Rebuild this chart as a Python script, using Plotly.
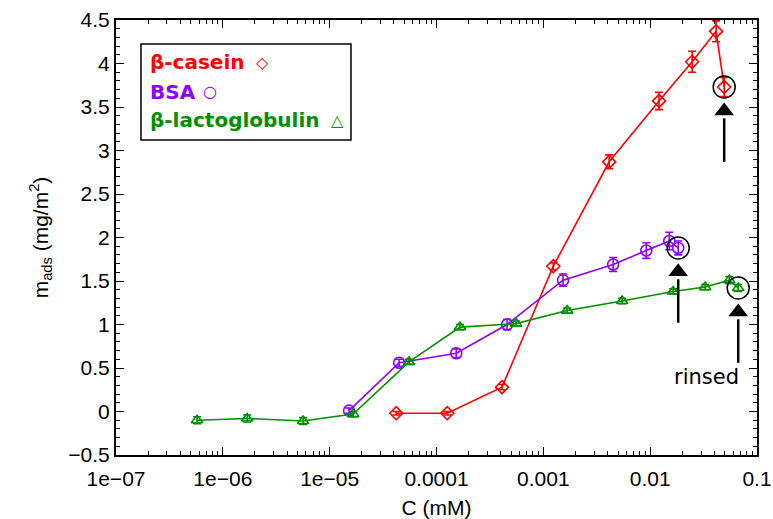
import plotly.graph_objects as go

# ---------------- data ----------------
casein_c = [4.2e-5, 1.26e-4, 4.1e-4, 1.24e-3, 4.13e-3, 1.21e-2, 2.47e-2, 4.14e-2, 4.93e-2]
casein_m = [-0.02, -0.02, 0.28, 1.67, 2.87, 3.57, 4.02, 4.37, 3.73]
casein_err = [0.02, 0.02, 0.03, 0.04, 0.08, 0.1, 0.12, 0.12, 0.11]

bsa_c = [1.52e-5, 4.47e-5, 1.53e-4, 4.58e-4, 1.53e-3, 4.5e-3, 9.2e-3, 1.51e-2, 1.83e-2]
bsa_m = [0.01, 0.56, 0.67, 1.0, 1.51, 1.69, 1.85, 1.96, 1.88]
bsa_err = [0.03, 0.04, 0.05, 0.06, 0.07, 0.08, 0.09, 0.1, 0.08]

blg_c = [5.73e-7, 1.69e-6, 5.64e-6, 1.66e-5, 5.53e-5, 1.66e-4, 5.56e-4, 1.67e-3,
         5.47e-3, 1.64e-2, 3.27e-2, 5.5e-2, 6.67e-2]
blg_m = [-0.1, -0.08, -0.11, -0.03, 0.57, 0.97, 1.01, 1.16, 1.27, 1.38, 1.43, 1.51, 1.42]
blg_err = [0.04, 0.04, 0.04, 0.03, 0.03, 0.03, 0.03, 0.03, 0.03, 0.03, 0.03, 0.04, 0.04]

x_tickvals = [1e-7, 1e-6, 1e-5, 1e-4, 1e-3, 1e-2, 1e-1]
x_ticktext = ["1e\u221207", "1e\u221206", "1e\u221205", "0.0001", "0.001", "0.01", "0.1"]
y_tickvals = [-0.5, 0, 0.5, 1, 1.5, 2, 2.5, 3, 3.5, 4, 4.5]
y_ticktext = ["\u22120.5", "0", "0.5", "1", "1.5", "2", "2.5", "3", "3.5", "4", "4.5"]

series_names = ["\u03b2-casein", "BSA", "\u03b2-lactoglobulin"]
series_colors = ["#ff0000", "#8f00ff", "#008f00"]
rinsed_label = "rinsed"

RED, PURPLE, GREEN = series_colors

fig = go.Figure()

def add_series(c, m, err, color, symbol, size):
    fig.add_trace(go.Scatter(
        x=c, y=m, mode="lines+markers",
        line=dict(color=color, width=1.6),
        marker=dict(symbol=symbol, size=size, color=color, line=dict(color=color, width=1.6)),
        error_y=dict(type="data", array=err, visible=True, color=color, thickness=1.6, width=4),
        showlegend=False,
    ))

add_series(casein_c, casein_m, casein_err, RED, "diamond-open", 10)
add_series(bsa_c, bsa_m, bsa_err, PURPLE, "circle-open", 11)
add_series(blg_c, blg_m, blg_err, GREEN, "triangle-up-open", 10)

# rinsed points: circled, with an arrow pointing up at them from below
rinsed_c = [casein_c[-1], bsa_c[-1], blg_c[-1]]
rinsed_m = [casein_m[-1], bsa_m[-1], blg_m[-1]]
fig.add_trace(go.Scatter(
    x=rinsed_c, y=rinsed_m, mode="markers",
    marker=dict(symbol="circle-open", size=22, color="black", line=dict(color="black", width=1.5)),
    showlegend=False, hoverinfo="skip",
))

# arrow geometry relative to each rinsed point (in mg/m^2 below the point)
ARROW_TAIL, ARROW_BASE, ARROW_HEAD = 0.86, 0.36, 0.275
for cx, my in zip(rinsed_c, rinsed_m):
    fig.add_trace(go.Scatter(
        x=[cx, cx], y=[my - ARROW_TAIL, my - ARROW_BASE], mode="lines",
        line=dict(color="black", width=2.5), showlegend=False, hoverinfo="skip",
    ))
    fig.add_trace(go.Scatter(
        x=[cx], y=[my - ARROW_HEAD], mode="markers",
        marker=dict(symbol="triangle-up", size=17, color="black", line=dict(width=0)),
        showlegend=False, hoverinfo="skip",
    ))

fig.add_annotation(
    x=-1.47, y=0.4, xref="x", yref="y", text=rinsed_label, showarrow=False,
    font=dict(family="DejaVu Sans", size=21, color="black"),
)

# legend box
fig.add_shape(type="rect", xref="paper", yref="paper",
              x0=0.039, x1=0.3666, y0=0.724, y1=0.9448,
              line=dict(color="black", width=1.5), fillcolor="white", layer="above")

leg_y = [0.9034, 0.8345, 0.770]
sym_x = [0.2278, 0.1466, 0.3463]
sym_txt = ["\u25c7", "\u25cb", "\u25b3"]
for name, col, ly, sx, st in zip(series_names, series_colors, leg_y, sym_x, sym_txt):
    fig.add_annotation(x=0.0499, y=ly, xref="paper", yref="paper", xanchor="left", yanchor="middle",
                       text="<b>%s</b>" % name, showarrow=False,
                       font=dict(family="DejaVu Sans", size=20, color=col))
    fig.add_annotation(x=sx, y=ly, xref="paper", yref="paper", xanchor="center", yanchor="middle",
                       text=st, showarrow=False,
                       font=dict(family="DejaVu Sans", size=16, color=col))

tick_font = dict(family="Liberation Sans", size=21, color="black")

fig.update_xaxes(
    type="log", range=[-7, -1], automargin=False,
    tickmode="array", tickvals=x_tickvals, ticktext=x_ticktext,
    ticks="inside", ticklen=8, tickwidth=1.2, tickcolor="black",
    ticklabelstandoff=4,
    minor=dict(tickmode="array",
               tickvals=[k * 10 ** e for e in range(-7, -1) for k in range(2, 10)],
               ticks="inside", ticklen=4, tickwidth=1.2, tickcolor="black", showgrid=False),
    showline=True, linecolor="black", linewidth=2, mirror="ticks",
    showgrid=False, zeroline=False,
    tickfont=tick_font,
    title=dict(text="C (mM)", font=tick_font, standoff=14),
)
fig.update_yaxes(
    range=[-0.5, 4.5], automargin=False,
    tickmode="array", tickvals=y_tickvals, ticktext=y_ticktext,
    ticks="inside", ticklen=8, tickwidth=1.2, tickcolor="black",
    minor=dict(tickmode="array", tickvals=[round(-0.5 + 0.1 * i, 2) for i in range(51)],
               ticks="inside", ticklen=4, tickwidth=1.2, tickcolor="black", showgrid=False),
    showline=True, linecolor="black", linewidth=2, mirror="ticks",
    showgrid=False, zeroline=False,
    tickfont=tick_font,
    title=dict(text="m<sub>ads</sub> (mg/m<sup>2</sup>)", font=tick_font, standoff=14),
)

fig.update_layout(
    width=773, height=519,
    margin=dict(l=116, r=16, t=20, b=64),
    paper_bgcolor="white", plot_bgcolor="white",
    showlegend=False,
)

fig.write_html("out.html")
